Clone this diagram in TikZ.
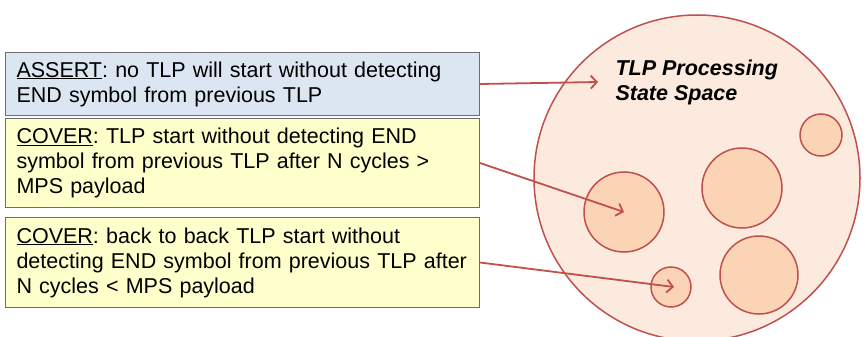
\documentclass[tikz,border=0pt]{standalone}
\usepackage{fontspec}
\setmainfont{Liberation Sans}
\usetikzlibrary{arrows.meta}
\usetikzlibrary{positioning}

\definecolor{edgered}{RGB}{192,80,77}
\definecolor{spacefill}{RGB}{253,234,222}
\definecolor{spotfill}{RGB}{251,212,182}
\definecolor{assertfill}{RGB}{220,230,242}
\definecolor{coverfill}{RGB}{255,255,204}
\definecolor{boxline}{RGB}{110,110,110}

\begin{document}
\frenchspacing
\begin{tikzpicture}[x=1pt,y=-1pt,
    every node/.style={font=\fontsize{21.5}{25}\selectfont},
    propbox/.style={draw=boxline,line width=1pt,anchor=north west,align=left,
      text width=452pt,inner xsep=11pt,inner ysep=4pt,minimum height=#1},
    space/.style={circle,draw=edgered,fill=spacefill,line width=1.5pt,inner sep=0pt},
    spot/.style={circle,draw=edgered,fill=spotfill,line width=1.5pt,inner sep=0pt,minimum size=#1},
    pointer/.style={draw=edgered,line width=1.8pt,-{Straight Barb[length=6pt,width=13pt]}}]
      \useasboundingbox (0,0) rectangle (865,337);

      % state space
      \node[space,minimum size=326pt] (statespace) at (697,178) {};
      \node[anchor=north west,align=left,font=\fontsize{21.5}{25}\selectfont\bfseries\itshape] (title) at (612,56)
        {TLP Processing\\State Space};
      \node[spot=42pt] (spotA) at (821,135) {};
      \node[spot=80pt] (spotB) at (624,212) {};
      \node[spot=80pt] (spotC) at (742,188) {};
      \node[spot=78pt] (spotD) at (759,275) {};
      \node[spot=40pt] (spotE) at (671,287) {};

      % properties
      \node[propbox=63pt,fill=assertfill] (assert) at (5,52)
        {\underline{ASSERT}: no TLP will start without detecting\\END symbol from previous TLP};
      \node[propbox=89pt,fill=coverfill] (coverA) at (5,118)
        {\underline{COVER}: TLP start without detecting END\\symbol from previous TLP after N cycles >\\MPS payload};
      \node[propbox=90pt,fill=coverfill] (coverB) at (5,217)
        {\underline{COVER}: back to back TLP start without\\detecting END symbol from previous TLP after\\N cycles < MPS payload};

      \coordinate (entry) at (598,82);
      \draw[pointer] (assert.east) -- (entry);
      \draw[pointer] (coverA.east) -- (spotB.center);
      \draw[pointer] (coverB.east) -- ([xshift=3pt]spotE.center);
    \end{tikzpicture}
\end{document}
